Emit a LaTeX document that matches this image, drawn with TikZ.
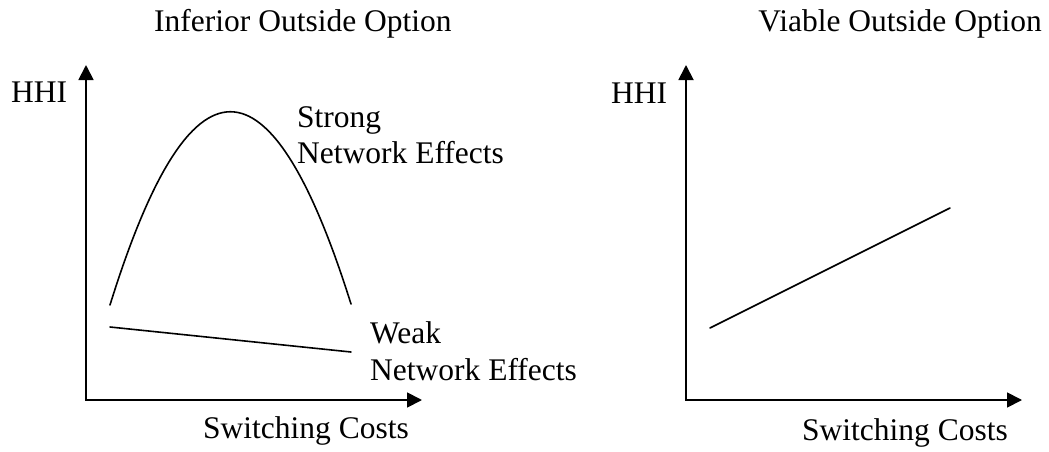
\documentclass[tikz,border=0pt]{standalone}
\usepackage{fontspec}
\setmainfont{Liberation Serif}
\usetikzlibrary{arrows.meta}
\begin{document}
\begin{tikzpicture}[x=1pt,y=-1pt,
  axis/.style={line width=1.8pt,{Triangle[length=15pt,width=15pt]}-{Triangle[length=15pt,width=15pt]}},
  curve/.style={line width=1.6pt,line cap=round},
  lbl/.style={anchor=base west,inner sep=0pt,font=\fontsize{31.5}{37}\selectfont}]
\useasboundingbox (0,0) rectangle (1049,452);
% left panel
\coordinate (y1) at (86,65);
\coordinate (o1) at (86,400);
\coordinate (x1) at (422,400);
\draw[axis] (y1) -- (o1) -- (x1);
\coordinate (s1) at (110,305);
\coordinate (s2) at (351,304);
\draw[curve] (s1) .. controls (190,47.7) and (270.3,47.3) .. (s2);
\coordinate (w1) at (110,327);
\coordinate (w2) at (351,352);
\draw[curve] (w1) -- (w2);
\node[lbl] (t1) at (154,32) {Inferior Outside Option};
\node[lbl] (h1) at (11,102) {HHI};
\node[lbl] (sc1) at (203,438) {Switching Costs};
\node[lbl] (st1) at (297,127) {Strong};
\node[lbl] (st2) at (297,163) {Network Effects};
\node[lbl] (wk1) at (370,343) {Weak};
\node[lbl] (wk2) at (370,380) {Network Effects};
% right panel
\coordinate (y2) at (686,65);
\coordinate (o2) at (686,400);
\coordinate (x2) at (1022,400);
\draw[axis] (y2) -- (o2) -- (x2);
\coordinate (v1) at (710,328);
\coordinate (v2) at (950,208);
\draw[curve] (v1) -- (v2);
\node[lbl,anchor=base east] (t2) at (1042,32) {Viable Outside Option};
\node[lbl] (h2) at (611,103) {HHI};
\node[lbl] (sc2) at (802,440) {Switching Costs};
\end{tikzpicture}
\end{document}
